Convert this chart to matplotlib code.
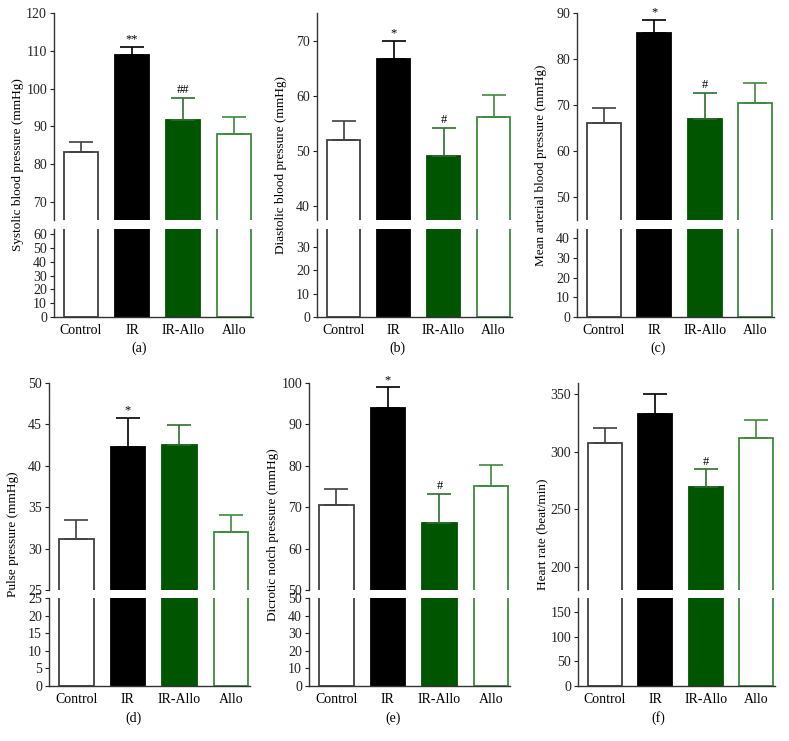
import matplotlib
matplotlib.use("Agg")
import matplotlib.pyplot as plt
import numpy as np

plt.rcParams['font.family'] = ['Liberation Serif', 'DejaVu Serif']
plt.rcParams['font.size'] = 10

categories = ["Control", "IR", "IR-Allo", "Allo"]

# panel data: means, upper error (mean+SEM)
sbp_mean = [83.3, 108.8, 91.6, 88.05]
sbp_err = [85.75, 111.1, 97.6, 92.6]
sbp_marks = ["", "**", "##", ""]

dbp_mean = [52.05, 66.6, 49.1, 56.1]
dbp_err = [55.4, 70.0, 54.2, 60.1]
dbp_marks = ["", "*", "#", ""]

map_mean = [66.15, 85.6, 67.1, 70.4]
map_err = [69.35, 88.5, 72.7, 74.8]
map_marks = ["", "*", "#", ""]

pp_mean = [31.2, 42.3, 42.55, 32.0]
pp_err = [33.4, 45.8, 44.95, 34.0]
pp_marks = ["", "*", "", ""]

dnp_mean = [70.6, 93.9, 66.3, 75.0]
dnp_err = [74.5, 98.95, 73.3, 80.2]
dnp_marks = ["", "*", "#", ""]

hr_mean = [307.8, 333.0, 269.7, 312.2]
hr_err = [320.8, 350.0, 284.8, 328.0]
hr_marks = ["", "", "#", ""]

ylabels = ["Systolic blood pressure (mmHg)", "Diastolic blood pressure (mmHg)",
           "Mean arterial blood pressure (mmHg)", "Pulse pressure (mmHg)",
           "Dicrotic notch pressure (mmHg)", "Heart rate (beat/min)"]
panel_tags = ["(a)", "(b)", "(c)", "(d)", "(e)", "(f)"]

upper_ticks = [[70, 80, 90, 100, 110, 120], [40, 50, 60, 70], [50, 60, 70, 80, 90],
               [25, 30, 35, 40, 45, 50], [50, 60, 70, 80, 90, 100], [200, 250, 300, 350]]
upper_lims = [(65.2, 120), (37.5, 75), (45.1, 90), (25, 50), (50, 100), (180, 360)]
lower_ticks = [[0, 10, 20, 30, 40, 50, 60], [0, 10, 20, 30], [0, 10, 20, 30, 40],
               [0, 5, 10, 15, 20, 25], [0, 10, 20, 30, 40, 50], [0, 50, 100, 150]]
lower_lims = [(0, 64), (0, 37.7), (0, 44.6), (0, 25), (0, 50), (0, 178)]

means = [sbp_mean, dbp_mean, map_mean, pp_mean, dnp_mean, hr_mean]
errs = [sbp_err, dbp_err, map_err, pp_err, dnp_err, hr_err]
marks = [sbp_marks, dbp_marks, map_marks, pp_marks, dnp_marks, hr_marks]

face_colors = ["white", "black", "#005500", "white"]
edge_colors = ["#404040", "black", "#005500", "#3d8a3d"]
err_colors = ["#404040", "black", "#2e6e2e", "#3d8a3d"]

W, H = 789, 741
fig = plt.figure(figsize=(W / 100, H / 100), dpi=100)

col_x = [(54, 253), (317, 512), (577, 774), (49, 250), (309, 510), (578, 775)]
row_y = [(13, 220, 229, 317), (383, 590, 598, 686)]
tag_pos = [(139, 348), (397, 348), (658, 348), (133, 718), (393, 718), (658, 718)]
xlim = (-0.53, 3.37)

def px_rect(x0, x1, y0, y1):
    return [x0 / W, 1 - y1 / H, (x1 - x0) / W, (y1 - y0) / H]

x = np.arange(len(categories))
for i in range(6):
    r = 0 if i < 3 else 1
    x0, x1 = col_x[i]
    t, ub, lt, b = row_y[r]
    axu = fig.add_axes(px_rect(x0, x1, t, ub))
    axl = fig.add_axes(px_rect(x0, x1, lt, b))
    for ax in (axu, axl):
        ax.bar(x, means[i], width=0.67, color=face_colors, edgecolor=edge_colors,
               linewidth=1.3, zorder=2)
        for j in range(4):
            ax.errorbar(x[j], means[i][j], yerr=[[0], [errs[i][j] - means[i][j]]],
                        color=err_colors[j], capsize=8.5, elinewidth=1.2,
                        capthick=1.2, zorder=3, fmt="none")
        ax.set_xlim(*xlim)
        for s in ("top", "right"):
            ax.spines[s].set_visible(False)
        for s in ("left", "bottom"):
            ax.spines[s].set_color("#333333")
            ax.spines[s].set_linewidth(1.0)
        ax.tick_params(axis="y", length=3, width=0.8, pad=2, colors="#222222",
                       labelsize=10)
    axu.set_ylim(*upper_lims[i])
    axu.set_yticks(upper_ticks[i])
    axu.spines["bottom"].set_visible(False)
    axu.set_xticks([])
    axl.set_ylim(*lower_lims[i])
    axl.set_yticks(lower_ticks[i])
    axl.set_xticks(x)
    axl.set_xticklabels(categories)
    axl.tick_params(axis="x", length=0, pad=5, labelsize=10)
    for j in range(4):
        if marks[i][j]:
            axu.annotate(marks[i][j], (x[j], errs[i][j]), xytext=(0, 1),
                         textcoords="offset points", ha="center", va="bottom",
                         fontsize=9)
    ymid = 1 - ((t + b) / 2) / H
    fig.text((x0 - 36) / W, ymid, ylabels[i], rotation=90, ha="center", va="center",
             fontsize=9.5)
    fig.text(tag_pos[i][0] / W, 1 - tag_pos[i][1] / H, panel_tags[i], ha="center",
             va="center", fontsize=10)

fig.savefig("out.png", dpi=100, facecolor="white")
